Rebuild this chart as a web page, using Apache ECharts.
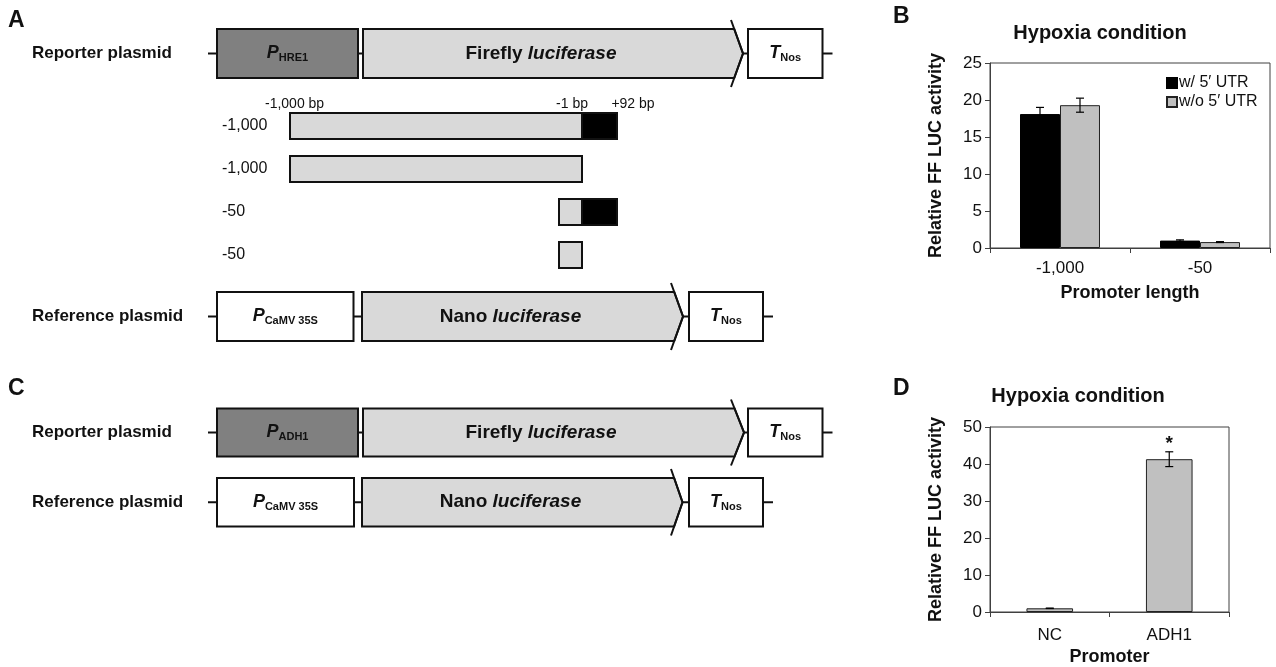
<!DOCTYPE html>
<html><head><meta charset="utf-8">
<script src="https://cdn.jsdelivr.net/npm/echarts@6/dist/echarts.min.js"></script>
<style>html,body{margin:0;padding:0;background:#fff}#c{width:1276px;height:667px}</style>
</head><body><div id="c"></div>
<script>
const FONT = '"Liberation Sans", Arial, sans-serif';

// ---------- Panel B data ----------
const promoterLengths = ['-1,000', '-50'];
const seriesNamesB = ['w/ 5\u2032 UTR', 'w/o 5\u2032 UTR'];
const withUTR = [18.1, 1.0];
const withUTRErr = [0.9, 0.1];
const withoutUTR = [19.3, 0.8];
const withoutUTRErr = [0.95, 0.06];
const yTicksB = [0, 5, 10, 15, 20, 25];

// ---------- Panel D data ----------
const promotersD = ['NC', 'ADH1'];
const activityD = [1.0, 41.3];
const activityDErr = [0.05, 2.0];
const significanceD = ['', '*'];
const yTicksD = [0, 10, 20, 30, 40, 50];

// ---------- Panel A constructs (bp) ----------
const constructLabels = ['-1,000', '-1,000', '-50', '-50'];
const constructStart = [-1000, -1000, -50, -50];
const constructUTREnd = [92, 0, 92, 0];   // 0 = no 5' UTR
const bpMarkLabels = ['-1,000 bp', '-1 bp', '+92 bp'];
const bpMarkValues = [-1000, -1, 92];

// schematic (not to scale) bp -> x mapping for the construct drawing
const bpAnchors = [-1000, -50, -1, 92];
const bpAnchorX = [290, 559, 582, 617];
function bpX(bp) {
  for (let k = 0; k < bpAnchors.length - 1; k++) {
    if (bp <= bpAnchors[k + 1]) {
      const t = (bp - bpAnchors[k]) / (bpAnchors[k + 1] - bpAnchors[k]);
      return bpAnchorX[k] + t * (bpAnchorX[k + 1] - bpAnchorX[k]);
    }
  }
  return bpAnchorX[bpAnchorX.length - 1];
}

const INK = '#111';
const G = [];
function txt(x, y, text, size, opts) {
  opts = opts || {};
  G.push({type: 'text', x: x, y: y, z: 10, style: Object.assign({
    text: text, fontSize: size, fontFamily: FONT, fill: INK,
    fontWeight: opts.bold ? 'bold' : 'normal', align: opts.align || 'left', verticalAlign: 'middle'
  }, opts.style || {})});
}
function subTxt(x, y, main, sub) {
  G.push({type: 'text', x: x, y: y, z: 10, style: {
    text: '{p|' + main + '}{s|' + sub + '}', align: 'center', verticalAlign: 'middle',
    rich: {
      p: {fontSize: 18, fontWeight: 'bold', fontStyle: 'italic', fontFamily: FONT, fill: INK, lineHeight: 20},
      s: {fontSize: 11, fontWeight: 'bold', fontFamily: FONT, fill: INK, lineHeight: 10, verticalAlign: 'bottom'}
    }
  }});
}
function geneTxt(x, y, name) {
  G.push({type: 'text', x: x, y: y, z: 10, style: {
    text: '{b|' + name + ' }{i|luciferase}', align: 'center', verticalAlign: 'middle',
    rich: {
      b: {fontSize: 19, fontWeight: 'bold', fontFamily: FONT, fill: INK},
      i: {fontSize: 19, fontWeight: 'bold', fontStyle: 'italic', fontFamily: FONT, fill: INK}
    }
  }});
}
function line(x1, y1, x2, y2) {
  G.push({type: 'line', z: 5, shape: {x1: x1, y1: y1, x2: x2, y2: y2}, style: {stroke: INK, lineWidth: 2}});
}
function rect(x1, y1, x2, y2, fill) {
  G.push({type: 'rect', z: 5, shape: {x: x1, y: y1, width: x2 - x1, height: y2 - y1}, style: {fill: fill, stroke: INK, lineWidth: 2}});
}
function arrow(xs, xn, xt, yT, yB, ext) {
  const yc = (yT + yB) / 2;
  const xj = xn + (xt - xn) * ext / (ext + (yB - yT) / 2);
  G.push({type: 'polygon', z: 5, shape: {points: [[xs, yT], [xj, yT], [xt, yc], [xj, yB], [xs, yB]]},
    style: {fill: '#d9d9d9', stroke: INK, lineWidth: 2}});
  G.push({type: 'polyline', z: 6, shape: {points: [[xn, yT - ext], [xt, yc], [xn, yB + ext]]},
    style: {stroke: INK, lineWidth: 2, fill: null}});
}
function plasmid(row) {
  const yc = (row.yT + row.yB) / 2;
  line(208, yc, 217, yc);
  rect(217, row.yT, row.pEnd, row.yB, row.pFill);
  subTxt((217 + row.pEnd) / 2, yc, 'P', row.pSub);
  line(row.pEnd, yc, row.gStart, yc);
  arrow(row.gStart, row.notch, row.tip, row.yT, row.yB, 9);
  geneTxt((row.gStart + row.notch) / 2 - 6, yc, row.gene);
  line(row.tip, yc, row.tStart, yc);
  rect(row.tStart, row.yT, row.tEnd, row.yB, '#fff');
  subTxt((row.tStart + row.tEnd) / 2, yc, 'T', 'Nos');
  line(row.tEnd, yc, row.tEnd + 10, yc);
  txt(32, yc, row.label, 17, {bold: true});
}

// Panel letters
txt(8, 21, 'A', 23, {bold: true});
txt(893, 17, 'B', 23, {bold: true});
txt(8, 389, 'C', 23, {bold: true});
txt(893, 389, 'D', 23, {bold: true});

// Panel A
plasmid({label: 'Reporter plasmid', yT: 29, yB: 78, pEnd: 358, pFill: '#808080', pSub: 'HRE1',
  gStart: 363, notch: 731, tip: 743, gene: 'Firefly', tStart: 748, tEnd: 822.5});
plasmid({label: 'Reference plasmid', yT: 292, yB: 341, pEnd: 353.5, pFill: '#ffffff', pSub: 'CaMV 35S',
  gStart: 362, notch: 671, tip: 683, gene: 'Nano', tStart: 689, tEnd: 763});

// constructs
constructLabels.forEach(function (lab, i) {
  const top = 113 + i * 43, bot = top + 26;
  const x0 = bpX(constructStart[i]), x1 = bpX(-1);
  rect(x0, top, x1, bot, '#d9d9d9');
  if (constructUTREnd[i] > 0) rect(x1, top, bpX(constructUTREnd[i]), bot, '#000');
  txt(222, (top + bot) / 2, lab, 16);
});
txt(bpX(bpMarkValues[0]) - 25, 104, bpMarkLabels[0], 14);
txt(bpX(bpMarkValues[1]) - 10, 104, bpMarkLabels[1], 14, {align: 'center'});
txt(bpX(bpMarkValues[2]) + 16, 104, bpMarkLabels[2], 14, {align: 'center'});

// Panel C
plasmid({label: 'Reporter plasmid', yT: 408.5, yB: 456.5, pEnd: 358, pFill: '#808080', pSub: 'ADH1',
  gStart: 363, notch: 731, tip: 744, gene: 'Firefly', tStart: 748, tEnd: 822.5});
plasmid({label: 'Reference plasmid', yT: 478, yB: 526.5, pEnd: 354, pFill: '#ffffff', pSub: 'CaMV 35S',
  gStart: 362, notch: 671, tip: 682.5, gene: 'Nano', tStart: 689, tEnd: 763});

// chart titles
txt(1100, 33, 'Hypoxia condition', 20, {bold: true, align: 'center'});
txt(1078, 396, 'Hypoxia condition', 20, {bold: true, align: 'center'});

// ---------- error bars ----------
function errorRenderer(offsetFrac, marks) {
  return function (params, api) {
    const i = api.value(0), v = api.value(1), e = api.value(2);
    const band = api.size([1, 0])[0];
    const hi = api.coord([i, v + e]), lo = api.coord([i, v - e]);
    const x = hi[0] + offsetFrac * band;
    const cap = 4;
    const st = {stroke: '#000', lineWidth: 1.2};
    const ch = [
      {type: 'line', shape: {x1: x, y1: hi[1], x2: x, y2: lo[1]}, style: st},
      {type: 'line', shape: {x1: x - cap, y1: hi[1], x2: x + cap, y2: hi[1]}, style: st},
      {type: 'line', shape: {x1: x - cap, y1: lo[1], x2: x + cap, y2: lo[1]}, style: st}
    ];
    if (marks && marks[params.dataIndex]) {
      ch.push({type: 'text', x: x, y: hi[1] - 8, style: {text: marks[params.dataIndex], fontSize: 19,
        fontWeight: 'bold', fontFamily: FONT, fill: INK, align: 'center', verticalAlign: 'middle'}});
    }
    return {type: 'group', children: ch};
  };
}
const BAR_FRAC_B = 0.2857;
const BAR_FRAC_D = 0.39;

const axisCol = '#404040';
function yAxisCfg(gi, ticks, gap) {
  return {
    type: 'value', gridIndex: gi, min: ticks[0], max: ticks[ticks.length - 1], interval: ticks[1] - ticks[0],
    name: 'Relative FF LUC activity', nameLocation: 'middle', nameGap: gap, nameRotate: 90,
    nameTextStyle: {fontSize: 18, fontWeight: 'bold', fontFamily: FONT, color: INK},
    axisLine: {show: true, lineStyle: {color: axisCol, width: 1}},
    axisTick: {show: true, length: 5, lineStyle: {color: axisCol}},
    axisLabel: {fontSize: 17, fontFamily: FONT, color: INK, margin: 8},
    splitLine: {show: false}
  };
}
function xAxisCfg(gi, cats, name, margin) {
  return {
    type: 'category', gridIndex: gi, data: cats,
    name: name, nameLocation: 'middle', nameGap: 36,
    nameTextStyle: {fontSize: 18, fontWeight: 'bold', fontFamily: FONT, color: INK},
    axisLine: {show: true, lineStyle: {color: axisCol, width: 1}},
    axisTick: {show: true, length: 5, interval: 0, lineStyle: {color: axisCol}},
    axisLabel: {fontSize: 17, fontFamily: FONT, color: INK, margin: margin, interval: 0}
  };
}

const option = {
  animation: false,
  backgroundColor: '#fff',
  textStyle: {fontFamily: FONT},
  grid: [
    {left: 990, top: 63, width: 280, height: 185, show: true, borderColor: axisCol, borderWidth: 1, backgroundColor: 'transparent'},
    {left: 990, top: 427, width: 239, height: 185, show: true, borderColor: axisCol, borderWidth: 1, backgroundColor: 'transparent'}
  ],
  xAxis: [xAxisCfg(0, promoterLengths, 'Promoter length', 12), xAxisCfg(1, promotersD, 'Promoter', 15)],
  yAxis: [yAxisCfg(0, yTicksB, 45), yAxisCfg(1, yTicksD, 45)],
  legend: {
    data: seriesNamesB, orient: 'vertical', left: 1161, top: 70, itemWidth: 10, itemHeight: 10, itemGap: 3,
    icon: 'rect', textStyle: {fontSize: 16, fontFamily: FONT, color: INK, padding: [0, 0, 0, -3]}
  },
  series: [
    {name: seriesNamesB[0], type: 'bar', xAxisIndex: 0, yAxisIndex: 0, data: withUTR,
      barWidth: (BAR_FRAC_B * 100) + '%', barGap: '0%',
      itemStyle: {color: '#000', borderColor: '#000', borderWidth: 1}},
    {name: seriesNamesB[1], type: 'bar', xAxisIndex: 0, yAxisIndex: 0, data: withoutUTR,
      barWidth: (BAR_FRAC_B * 100) + '%', barGap: '0%',
      itemStyle: {color: '#c0c0c0', borderColor: '#222', borderWidth: 1}},
    {name: 'errB1', type: 'custom', xAxisIndex: 0, yAxisIndex: 0, z: 5,
      renderItem: errorRenderer(-BAR_FRAC_B / 2),
      encode: {x: 0, y: 1},
      data: promoterLengths.map(function (c, i) { return [i, withUTR[i], withUTRErr[i]]; })},
    {name: 'errB2', type: 'custom', xAxisIndex: 0, yAxisIndex: 0, z: 5,
      renderItem: errorRenderer(BAR_FRAC_B / 2),
      encode: {x: 0, y: 1},
      data: promoterLengths.map(function (c, i) { return [i, withoutUTR[i], withoutUTRErr[i]]; })},
    {name: 'D', type: 'bar', xAxisIndex: 1, yAxisIndex: 1, data: activityD,
      barWidth: (BAR_FRAC_D * 100) + '%',
      itemStyle: {color: '#c0c0c0', borderColor: '#222', borderWidth: 1}},
    {name: 'errD', type: 'custom', xAxisIndex: 1, yAxisIndex: 1, z: 5,
      renderItem: errorRenderer(0, significanceD),
      encode: {x: 0, y: 1},
      data: promotersD.map(function (c, i) { return [i, activityD[i], activityDErr[i]]; })}
  ],
  graphic: G
};

const chart = echarts.init(document.getElementById('c'), null, {renderer: 'canvas'});
chart.setOption(option);
</script>
</body></html>
